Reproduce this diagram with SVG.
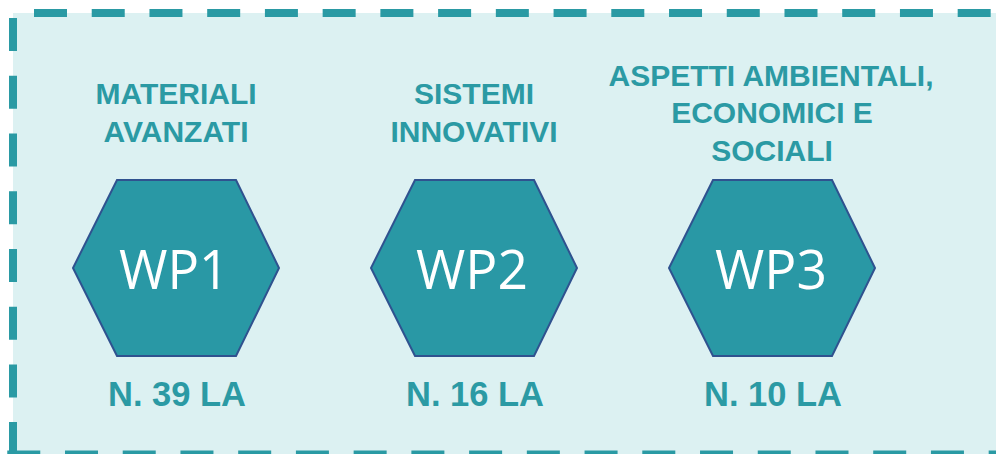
<svg xmlns="http://www.w3.org/2000/svg" xmlns:xlink="http://www.w3.org/1999/xlink" width="996" height="454" viewBox="0 0 996 454">
  <style>
    .frame { fill: none; stroke: #2A9AA4; stroke-width: 8; stroke-dasharray: 33 24.73; }
    .title { font-family: "Liberation Sans", Arial, sans-serif; font-weight: bold; font-size: 30px; fill: #2B9AA4; text-anchor: middle; }
    .count { font-family: "Liberation Sans", Arial, sans-serif; font-weight: bold; font-size: 34.5px; fill: #2B9AA4; text-anchor: middle; }
    .wp { font-family: "Open Sans", "Noto Sans", sans-serif; font-size: 55px; fill: #FFFFFF; text-anchor: middle; }
    .hex { fill: #2998A5; stroke: #2F528F; stroke-width: 2; }
  </style>
  <defs>
    <!-- hexagon centred on the origin -->
    <polygon id="hexagon" class="hex" points="-59,-88 60,-88 103,0 60,88 -59,88 -103,0"/>
  </defs>

  <!-- white page and light panel -->
  <rect x="0" y="0" width="996" height="454" fill="#FFFFFF"/>
  <rect x="13" y="13" width="990" height="450" fill="#DCF1F2"/>

  <!-- dashed panel border -->
  <g id="frame">
    <line class="frame" x1="34" y1="13" x2="1000" y2="13"/>
    <line class="frame" x1="13" y1="18" x2="13" y2="455"/>
    <line class="frame" x1="7.27" y1="454.5" x2="1000" y2="454.5"/>
  </g>

  <g id="wp1">
    <text class="title" x="176" y="104">MATERIALI</text>
    <text class="title" x="176" y="141.7">AVANZATI</text>
    <use xlink:href="#hexagon" transform="translate(176,268)"/>
    <text class="wp" x="174" y="289" textLength="110" lengthAdjust="spacingAndGlyphs">WP1</text>
    <text class="count" x="177" y="405.5">N. 39 LA</text>
  </g>

  <g id="wp2">
    <text class="title" x="474" y="104">SISTEMI</text>
    <text class="title" x="474" y="141.7">INNOVATIVI</text>
    <use xlink:href="#hexagon" transform="translate(474,268)"/>
    <text class="wp" x="472" y="289" textLength="112" lengthAdjust="spacingAndGlyphs">WP2</text>
    <text class="count" x="475" y="405.5">N. 16 LA</text>
  </g>

  <g id="wp3">
    <text class="title" x="771" y="85.7">ASPETTI AMBIENTALI,</text>
    <text class="title" x="772" y="123.3">ECONOMICI E</text>
    <text class="title" x="772" y="161">SOCIALI</text>
    <use xlink:href="#hexagon" transform="translate(772,268)"/>
    <text class="wp" x="771" y="289" textLength="112" lengthAdjust="spacingAndGlyphs">WP3</text>
    <text class="count" x="773" y="405.5">N. 10 LA</text>
  </g>
</svg>
